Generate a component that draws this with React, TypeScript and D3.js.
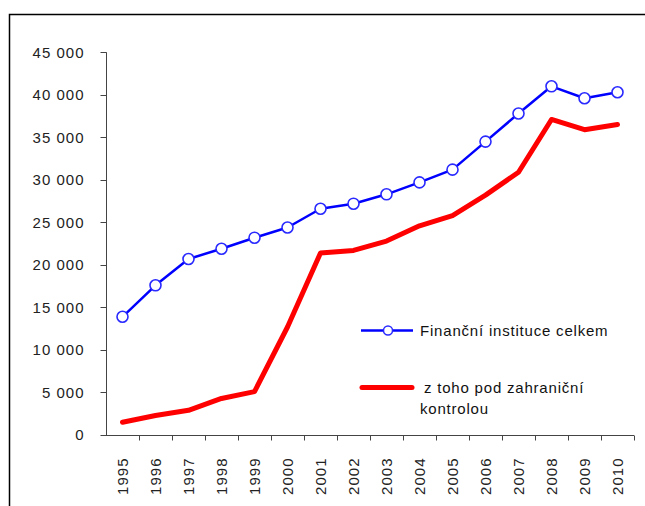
import * as d3 from "d3";
import { useEffect, useRef } from "react";

const years = ["1995", "1996", "1997", "1998", "1999", "2000", "2001", "2002", "2003", "2004", "2005", "2006", "2007", "2008", "2009", "2010"];
const totalInst = [13900, 17600, 20700, 21900, 23200, 24400, 26600, 27200, 28300, 29700, 31200, 34500, 37800, 41000, 39600, 40300];
const foreignCtrl = [1500, 2300, 2900, 4300, 5100, 12700, 21400, 21700, 22800, 24600, 25800, 28200, 30900, 37100, 35900, 36500];
const yTicks = [0, 5000, 10000, 15000, 20000, 25000, 30000, 35000, 40000, 45000];
const seriesNames = ["Finanční instituce celkem", " z toho pod zahraniční", "kontrolou"];

const W = 645;
const H = 506;
const FONT = "'Liberation Sans', Arial, sans-serif";

export default function App() {
  const ref = useRef<SVGSVGElement>(null);

  useEffect(() => {
    const svg = d3.select(ref.current);
    svg.selectAll("*").remove();

    // outer frame, runs off the right and bottom edge
    svg.append("rect")
      .attr("x", 9.5).attr("y", 14.5)
      .attr("width", 700).attr("height", 600)
      .attr("fill", "#fff")
      .attr("stroke", "#000").attr("stroke-width", 1.5);

    const x = d3.scaleBand().domain(years).range([106, 634]);
    const y = d3.scaleLinear().domain([0, 45000]).range([435, 52.3]);
    const cx = (d: string) => (x(d) ?? 0) + x.bandwidth() / 2;

    // y axis
    const ya = svg.append("g").attr("transform", "translate(106.5,0)");
    ya.append("line").attr("y1", y(45000)).attr("y2", y(0)).attr("stroke", "#444");
    ya.selectAll("line.t").data(yTicks).join("line")
      .attr("class", "t")
      .attr("x1", -6).attr("x2", 0)
      .attr("y1", (d) => Math.round(y(d)) + 0.5).attr("y2", (d) => Math.round(y(d)) + 0.5)
      .attr("stroke", "#444");
    ya.selectAll("text").data(yTicks).join("text")
      .attr("x", -22).attr("y", (d) => y(d))
      .attr("dy", "0.36em")
      .attr("text-anchor", "end")
      .style("font-family", FONT).style("font-size", "15px").style("letter-spacing", "1px")
      .attr("fill", "#222")
      .text((d) => d3.format(",")(d).replace(/,/g, " "));

    // x axis
    const xa = svg.append("g").attr("transform", "translate(0,435.5)");
    xa.append("line").attr("x1", 101).attr("x2", 634).attr("stroke", "#444");
    const edges = years.map((d) => x(d) ?? 0).concat([634]);
    xa.selectAll("line.t").data(edges.slice(1)).join("line")
      .attr("class", "t")
      .attr("x1", (d) => Math.round(d) + 0.5).attr("x2", (d) => Math.round(d) + 0.5)
      .attr("y1", 0).attr("y2", 5)
      .attr("stroke", "#444");
    xa.selectAll("text").data(years).join("text")
      .attr("transform", (d) => `translate(${cx(d)},22) rotate(-90)`)
      .attr("dy", "0.36em")
      .attr("text-anchor", "end")
      .style("font-family", FONT).style("font-size", "15px").style("letter-spacing", "1px")
      .attr("fill", "#222")
      .text((d) => d);

    const line = d3.line<number>()
      .x((_, i) => cx(years[i]))
      .y((d) => y(d));

    svg.append("path")
      .attr("d", line(foreignCtrl))
      .attr("fill", "none").attr("stroke", "#ff0000")
      .attr("stroke-width", 5).attr("stroke-linejoin", "round").attr("stroke-linecap", "round");

    svg.append("path")
      .attr("d", line(totalInst))
      .attr("fill", "none").attr("stroke", "#0000ff")
      .attr("stroke-width", 2.5).attr("stroke-linejoin", "round");

    svg.selectAll("circle.m").data(totalInst).join("circle")
      .attr("class", "m")
      .attr("cx", (_, i) => cx(years[i])).attr("cy", (d) => y(d))
      .attr("r", 5.5)
      .attr("fill", "#fff").attr("stroke", "#2a2aff").attr("stroke-width", 1.6);

    // legend
    const lg = svg.append("g").style("font-family", FONT).style("font-size", "15px").style("letter-spacing", "0.8px");
    lg.append("line").attr("x1", 361).attr("x2", 413).attr("y1", 330.5).attr("y2", 330.5)
      .attr("stroke", "#0000ff").attr("stroke-width", 2.5);
    lg.append("circle").attr("cx", 388).attr("cy", 330.5).attr("r", 4.5)
      .attr("fill", "#fff").attr("stroke", "#2a2aff").attr("stroke-width", 1.5);
    lg.append("text").attr("x", 420).attr("y", 330.5).attr("dy", "0.36em").attr("fill", "#111").text(seriesNames[0]);

    lg.append("line").attr("x1", 362).attr("x2", 412).attr("y1", 387.5).attr("y2", 387.5)
      .attr("stroke", "#ff0000").attr("stroke-width", 5).attr("stroke-linecap", "round");
    lg.append("text").attr("x", 419).attr("y", 387.5).attr("dy", "0.36em").attr("fill", "#111")
      .style("white-space", "pre").text(seriesNames[1]);
    lg.append("text").attr("x", 420).attr("y", 408.5).attr("dy", "0.36em").attr("fill", "#111").text(seriesNames[2]);
  }, []);

  return (
    <svg
      ref={ref}
      width={W}
      height={H}
      style={{ position: "absolute", left: 0, top: 0, background: "#fff" }}
    />
  );
}
